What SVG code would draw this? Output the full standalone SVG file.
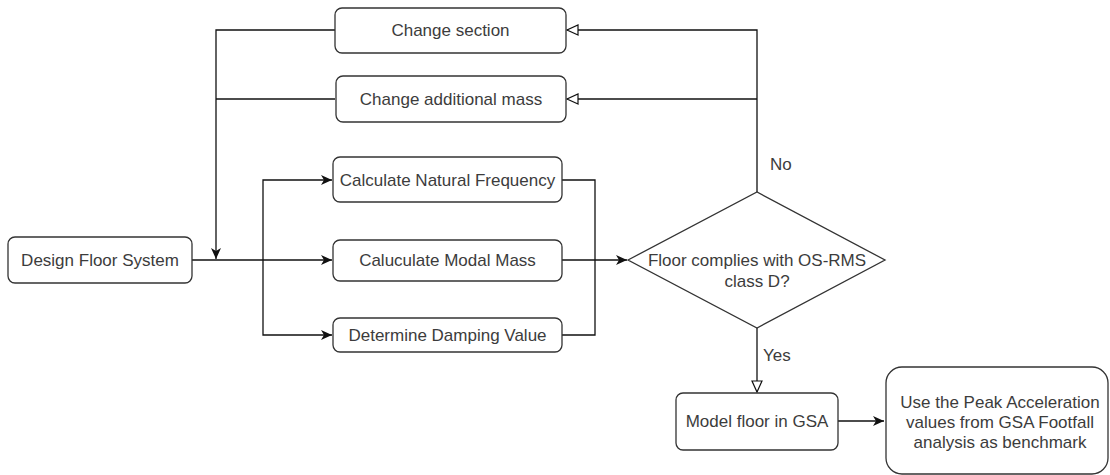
<svg xmlns="http://www.w3.org/2000/svg" width="1110" height="475" viewBox="0 0 1110 475">
<style>
.box{fill:#fff;stroke:#333;stroke-width:1.3}
.t{font-family:"Liberation Sans",Arial,sans-serif;font-size:17px;fill:#3c3c3c;text-anchor:middle;dominant-baseline:central}
.ln{fill:none;stroke:#111;stroke-width:1.3}
</style>
<defs>
<marker id="fa" markerWidth="12" markerHeight="10" refX="11" refY="5" orient="auto" markerUnits="userSpaceOnUse">
<path d="M0,0 L11,5 L0,10 L3,5 Z" fill="#111"/>
</marker>
<marker id="oa" markerWidth="14" markerHeight="12" refX="12" refY="6" orient="auto" markerUnits="userSpaceOnUse">
<path d="M1,1 L12,6 L1,11 Z" fill="#fff" stroke="#111" stroke-width="1.2"/>
</marker>
</defs>
<g id="connectors">
<path class="ln" d="M757,192 V30 H567" marker-end="url(#oa)"/>
<path class="ln" d="M757,99 H567" marker-end="url(#oa)"/>
<path class="ln" d="M335,30 H216 V259" marker-end="url(#fa)"/>
<path class="ln" d="M335,99 H216"/>
<path class="ln" d="M192,260 H332" marker-end="url(#fa)"/>
<path class="ln" d="M263,260 V180 H332" marker-end="url(#fa)"/>
<path class="ln" d="M263,260 V335 H332" marker-end="url(#fa)"/>
<path class="ln" d="M562,180 H595 V335 H562"/>
<path class="ln" d="M562,260 H627" marker-end="url(#fa)"/>
<path class="ln" d="M757,328 V392" marker-end="url(#oa)"/>
<path class="ln" d="M838,421 H884" marker-end="url(#fa)"/>
<text class="t" x="770" y="164" style="text-anchor:start">No</text>
<text class="t" x="763" y="355" style="text-anchor:start">Yes</text>
</g>
<g id="change-section">
<rect class="box" x="335" y="8" width="231" height="45" rx="7"/>
<text class="t" x="450.5" y="30.5">Change section</text>
</g>
<g id="change-mass">
<rect class="box" x="336" y="76" width="230" height="46" rx="7"/>
<text class="t" x="451" y="99">Change additional mass</text>
</g>
<g id="design-floor">
<rect class="box" x="8" y="237" width="184" height="46" rx="7"/>
<text class="t" x="100" y="260">Design Floor System</text>
</g>
<g id="natural-frequency">
<rect class="box" x="333" y="157" width="229" height="45" rx="7"/>
<text class="t" x="447.5" y="180">Calculate Natural Frequency</text>
</g>
<g id="modal-mass">
<rect class="box" x="333" y="240" width="229" height="41" rx="7"/>
<text class="t" x="447.5" y="260.5">Caluculate Modal Mass</text>
</g>
<g id="damping">
<rect class="box" x="333" y="318" width="229" height="34" rx="7"/>
<text class="t" x="447.5" y="335">Determine Damping Value</text>
</g>
<g id="decision">
<path class="box" d="M628,260 L757,192 L885,260 L757,328 Z"/>
<text class="t" x="757" y="260">Floor complies with OS-RMS</text>
<text class="t" x="757" y="281">class D?</text>
</g>
<g id="model-gsa">
<rect class="box" x="676" y="393" width="162" height="57" rx="7"/>
<text class="t" x="757" y="421.5">Model floor in GSA</text>
</g>
<g id="benchmark">
<rect class="box" x="886" y="367" width="222" height="107" rx="16"/>
<text class="t" x="1000" y="402">Use the Peak Acceleration</text>
<text class="t" x="1000" y="422">values from GSA Footfall</text>
<text class="t" x="1000" y="442">analysis as benchmark</text>
</g>
</svg>
